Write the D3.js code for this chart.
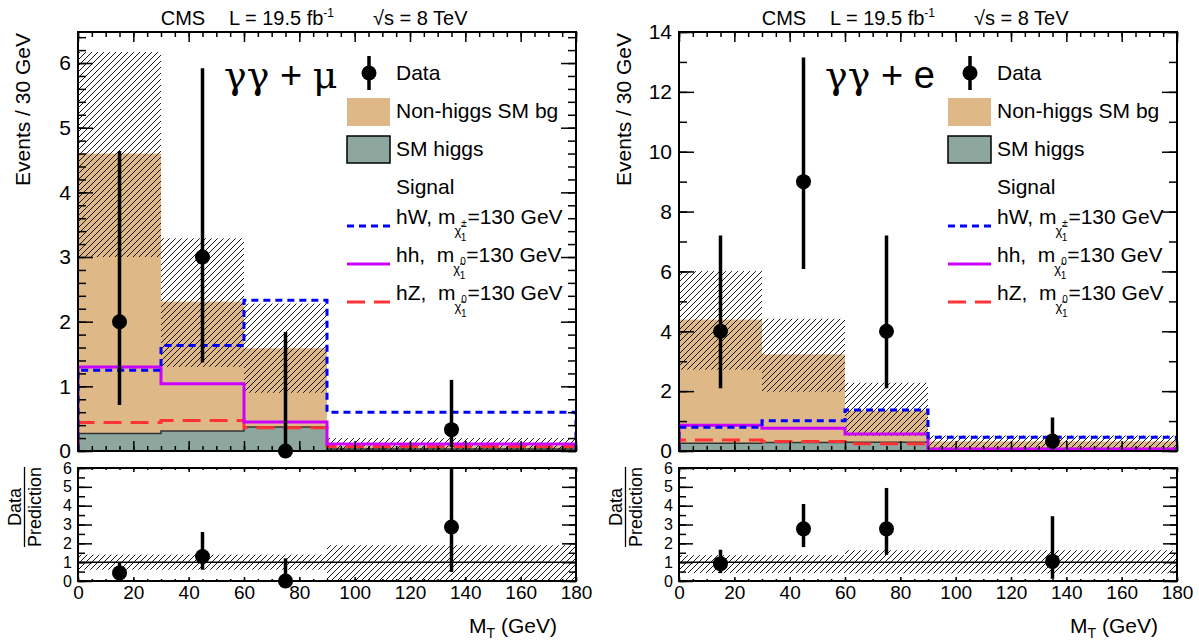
<!DOCTYPE html>
<meta charset="utf-8">
<style>
body { margin: 0; background: #fff; }
svg { font-family: "Liberation Sans", Arial, Helvetica, sans-serif; }
.tick text { font-family: "Liberation Sans", Arial, sans-serif; fill: #000; }
.domain { display: none; }
</style>
<body>
<script src="https://cdn.jsdelivr.net/npm/d3@7/dist/d3.min.js"></script>
<script>

// binning
var binEdges = [0, 30, 60, 90, 180];
var binCenters = [15, 45, 75, 135];

// gamma gamma + mu
var muHiggs = [0.27, 0.31, 0.37, 0.03];
var muBgTotal = [4.6, 2.31, 1.59, 0.08];
var muBandLo = [3.0, 1.3, 0.9, 0.0];
var muBandHi = [6.17, 3.29, 2.28, 0.2];
var muHW = [1.25, 1.63, 2.33, 0.6];
var muHH = [1.3, 1.04, 0.45, 0.11];
var muHZ = [0.44, 0.47, 0.36, 0.07];
var muData = [2, 3, 0, 0.33];
var muDataLo = [0.71, 1.37, 0, 0.06];
var muDataHi = [4.64, 5.92, 1.84, 1.1];
var muRatio = [0.43, 1.3, 0, 2.87];
var muRatioLo = [0.15, 0.6, 0, 0.48];
var muRatioHi = [1.0, 2.6, 1.2, 6.0];
var muRatioBandLo = [0.6, 0.6, 0.6, 0];
var muRatioBandHi = [1.4, 1.4, 1.4, 1.9];

// gamma gamma + e
var eHiggs = [0.26, 0.28, 0.29, 0.03];
var eBgTotal = [4.39, 3.23, 1.35, 0.32];
var eBandLo = [2.72, 1.98, 0.5, 0.05];
var eBandHi = [6.01, 4.42, 2.28, 0.52];
var eHW = [0.79, 1.01, 1.37, 0.46];
var eHH = [0.86, 0.76, 0.57, 0.07];
var eHZ = [0.37, 0.32, 0.24, 0.06];
var eData = [4, 9, 4, 0.33];
var eDataLo = [2.1, 6.08, 2.1, 0.06];
var eDataHi = [7.2, 13.15, 7.2, 1.12];
var eRatio = [0.92, 2.77, 2.77, 1.04];
var eRatioLo = [0.42, 1.8, 1.39, 0.12];
var eRatioHi = [1.66, 4.09, 4.94, 3.44];
var eRatioBandLo = [0.42, 0.42, 0.4, 0.4];
var eRatioBandHi = [1.37, 1.37, 1.63, 1.63];

var xTicks = [0, 20, 40, 60, 80, 100, 120, 140, 160, 180];
var ratioTicks = [0, 1, 2, 3, 4, 5, 6];

var colBg = "#deb887", colHiggs = "#8da79f";

var svg = d3.select("body").append("svg")
  .attr("width", 1199).attr("height", 643);

var defs = svg.append("defs");
defs.append("pattern").attr("id", "hatch")
  .attr("patternUnits", "userSpaceOnUse")
  .attr("width", 6).attr("height", 6)
  .append("path")
  .attr("d", "M-1,1 l2,-2 M0,6 l6,-6 M5,7 l2,-2")
  .attr("stroke", "#000").attr("stroke-width", 0.9);

var frameL = 78, frameR = 576, mainTop = 32, mainBot = 451, ratTop = 468, ratBot = 581;

function drawPad(ox, c) {
  var g = svg.append("g").attr("transform", "translate(" + ox + ",0)");
  var clipId = "clip" + ox, clipR = "clipr" + ox;
  defs.append("clipPath").attr("id", clipId).append("rect")
    .attr("x", ox + frameL).attr("y", mainTop).attr("width", frameR - frameL).attr("height", mainBot - mainTop);
  defs.append("clipPath").attr("id", clipR).append("rect")
    .attr("x", ox + frameL).attr("y", ratTop).attr("width", frameR - frameL).attr("height", ratBot - ratTop);

  var x = d3.scaleLinear().domain([0, 180]).range([frameL, frameR]);
  var y = d3.scaleLinear().domain([0, c.yMax]).range([mainBot, mainTop]);
  var yr = d3.scaleLinear().domain([0, 6]).range([ratBot, ratTop]);
  var bins = d3.range(4);

  var main = g.append("g").attr("clip-path", "url(#" + clipId + ")")
    .attr("transform", "translate(" + (-ox) + ",0)")
    .append("g").attr("transform", "translate(" + ox + ",0)");

  function bars(vLo, vHi, fill) {
    main.append("g").selectAll("rect").data(bins).enter().append("rect")
      .attr("x", function (i) { return x(binEdges[i]); })
      .attr("width", function (i) { return x(binEdges[i + 1]) - x(binEdges[i]); })
      .attr("y", function (i) { return y(vHi[i]); })
      .attr("height", function (i) { return y(vLo ? vLo[i] : 0) - y(vHi[i]); })
      .attr("fill", fill);
  }
  function step(vals, sc) {
    var pts = [[binEdges[0], 0]];
    vals.forEach(function (v, i) { pts.push([binEdges[i], v]); pts.push([binEdges[i + 1], v]); });
    pts.push([binEdges[4], 0]);
    return d3.line().x(function (p) { return x(p[0]); }).y(function (p) { return sc(p[1]); })(pts);
  }

  bars(null, c.bg, colBg);
  bars(null, c.higgs, colHiggs);
  main.append("path").attr("d", step(c.higgs, y)).attr("fill", "none")
    .attr("stroke", "#333").attr("stroke-width", 1.5);
  bars(c.bandLo, c.bandHi, "url(#hatch)");

  main.append("path").attr("d", step(c.hz, y)).attr("fill", "none")
    .attr("stroke", "#ff3333").attr("stroke-width", 3).attr("stroke-dasharray", "18,9");
  main.append("path").attr("d", step(c.hh, y)).attr("fill", "none")
    .attr("stroke", "#cc00ff").attr("stroke-width", 3);
  main.append("path").attr("d", step(c.hw, y)).attr("fill", "none")
    .attr("stroke", "#0000ff").attr("stroke-width", 3).attr("stroke-dasharray", "7,5");

  // data points
  var dp = g.append("g");
  dp.selectAll("line").data(bins).enter().append("line")
    .attr("x1", function (i) { return x(binCenters[i]); })
    .attr("x2", function (i) { return x(binCenters[i]); })
    .attr("y1", function (i) { return y(c.dataLo[i]); })
    .attr("y2", function (i) { return y(c.dataHi[i]); })
    .attr("stroke", "#000").attr("stroke-width", 3.5);
  dp.selectAll("circle").data(bins).enter().append("circle")
    .attr("cx", function (i) { return x(binCenters[i]); })
    .attr("cy", function (i) { return y(c.data[i]); })
    .attr("r", 7.5).attr("fill", "#000");

  // ratio pad
  var rat = g.append("g").attr("clip-path", "url(#" + clipR + ")")
    .attr("transform", "translate(" + (-ox) + ",0)")
    .append("g").attr("transform", "translate(" + ox + ",0)");
  rat.append("g").selectAll("rect").data(bins).enter().append("rect")
    .attr("x", function (i) { return x(binEdges[i]); })
    .attr("width", function (i) { return x(binEdges[i + 1]) - x(binEdges[i]); })
    .attr("y", function (i) { return yr(c.rBandHi[i]); })
    .attr("height", function (i) { return yr(c.rBandLo[i]) - yr(c.rBandHi[i]); })
    .attr("fill", "url(#hatch)");
  rat.append("line").attr("x1", x(0)).attr("x2", x(180)).attr("y1", yr(1)).attr("y2", yr(1))
    .attr("stroke", "#000").attr("stroke-width", 1.5);
  rat.selectAll(".eb").data(bins).enter().append("line")
    .attr("x1", function (i) { return x(binCenters[i]); })
    .attr("x2", function (i) { return x(binCenters[i]); })
    .attr("y1", function (i) { return yr(c.rLo[i]); })
    .attr("y2", function (i) { return yr(c.rHi[i]); })
    .attr("stroke", "#000").attr("stroke-width", 3.5);
  g.append("g").selectAll("circle").data(bins).enter().append("circle")
    .attr("cx", function (i) { return x(binCenters[i]); })
    .attr("cy", function (i) { return yr(c.ratio[i]); })
    .attr("r", 7.5).attr("fill", "#000");

  // axes with ROOT style inner ticks
  function ticks(axis, tx, ty, vals, size) {
    var a = g.append("g").attr("transform", "translate(" + tx + "," + ty + ")")
      .call(axis.tickValues(vals).tickSizeInner(size).tickSizeOuter(0).tickFormat(""));
    a.selectAll(".tick line").attr("stroke", "#000").attr("stroke-width", 1.5);
    return a;
  }
  var x5 = d3.range(0, 181, 5);
  var yMajor = d3.range(0, c.yMax + 0.001, c.yStep);
  var yMinor = d3.range(0, c.yMax + 0.001, c.yMinor);

  // main frame ticks
  ticks(d3.axisTop(x), 0, mainBot, x5, 5);
  ticks(d3.axisTop(x), 0, mainBot, xTicks, 10);
  ticks(d3.axisBottom(x), 0, mainTop, x5, 5);
  ticks(d3.axisBottom(x), 0, mainTop, xTicks, 10);
  ticks(d3.axisRight(y), frameL, 0, yMinor, 8);
  ticks(d3.axisRight(y), frameL, 0, yMajor, 15);
  ticks(d3.axisLeft(y), frameR, 0, yMinor, 8);
  ticks(d3.axisLeft(y), frameR, 0, yMajor, 15);
  var yl = g.append("g").attr("transform", "translate(" + frameL + ",0)")
    .call(d3.axisLeft(y).tickValues(yMajor).tickSize(0).tickPadding(7).tickFormat(d3.format("d")));
  yl.selectAll("text").attr("font-size", 21);

  // ratio frame ticks
  ticks(d3.axisTop(x), 0, ratBot, x5, 2);
  ticks(d3.axisTop(x), 0, ratBot, xTicks, 4);
  ticks(d3.axisBottom(x), 0, ratTop, x5, 2);
  ticks(d3.axisBottom(x), 0, ratTop, xTicks, 4);
  var rMinor = d3.range(0, 6.01, 0.5);
  ticks(d3.axisRight(yr), frameL, 0, rMinor, 7);
  ticks(d3.axisRight(yr), frameL, 0, ratioTicks, 14);
  ticks(d3.axisLeft(yr), frameR, 0, rMinor, 7);
  ticks(d3.axisLeft(yr), frameR, 0, ratioTicks, 14);
  var ryl = g.append("g").attr("transform", "translate(" + frameL + ",0)")
    .call(d3.axisLeft(yr).tickValues(ratioTicks).tickSize(0).tickPadding(6).tickFormat(d3.format("d")));
  ryl.selectAll("text").attr("font-size", 16);
  var rxl = g.append("g").attr("transform", "translate(0," + ratBot + ")")
    .call(d3.axisBottom(x).tickValues(xTicks).tickSize(0).tickPadding(5).tickFormat(d3.format("d")));
  rxl.selectAll("text").attr("font-size", 19);

  // frames
  g.append("rect").attr("x", frameL).attr("y", mainTop).attr("width", frameR - frameL)
    .attr("height", mainBot - mainTop).attr("fill", "none").attr("stroke", "#000").attr("stroke-width", 2);
  g.append("rect").attr("x", frameL).attr("y", ratTop).attr("width", frameR - frameL)
    .attr("height", ratBot - ratTop).attr("fill", "none").attr("stroke", "#000").attr("stroke-width", 2);

  // axis titles
  g.append("text").attr("transform", "translate(30,33) rotate(-90)")
    .attr("text-anchor", "end").attr("font-size", 21).text("Events / 30 GeV");
  var fr = g.append("g").attr("transform", "translate(0,507) rotate(-90)");
  fr.append("text").attr("x", 0).attr("y", 21).attr("text-anchor", "middle").attr("font-size", 18).text("Data");
  fr.append("line").attr("x1", -40).attr("x2", 40).attr("y1", 24.5).attr("y2", 24.5)
    .attr("stroke", "#000").attr("stroke-width", 1.3);
  fr.append("text").attr("x", 0).attr("y", 41).attr("text-anchor", "middle").attr("font-size", 18).text("Prediction");
  var mt = g.append("text").attr("x", 557).attr("y", 633).attr("text-anchor", "end").attr("font-size", 21);
  mt.append("tspan").text("M");
  mt.append("tspan").attr("font-size", 14).attr("dy", 5).text("T");
  mt.append("tspan").attr("dy", -5).text(" (GeV)");

  // header
  g.append("text").attr("x", 183).attr("y", 25).attr("text-anchor", "middle").attr("font-size", 20).text("CMS");
  var lum = g.append("text").attr("x", 229).attr("y", 25).attr("font-size", 20);
  lum.append("tspan").text("L = 19.5 fb");
  lum.append("tspan").attr("font-size", 12).attr("dy", -8).text("-1");
  g.append("text").attr("x", 373).attr("y", 25).attr("font-size", 20).text("\u221As = 8 TeV");

  // channel label
  var ch = g.append("text").attr("x", 224).attr("y", 88).attr("font-size", 38);
  ch.append("tspan").attr("font-family", "DejaVu Serif").text("\u03B3\u03B3");
  ch.append("tspan").text(" + ");
  ch.append("tspan").attr("font-family", c.chSerif ? "DejaVu Serif" : null).text(c.ch);

  // legend
  var lx = 347, tx = 396;
  var lg = g.append("g").attr("font-size", 21);
  lg.append("line").attr("x1", 369).attr("x2", 369).attr("y1", 56).attr("y2", 90)
    .attr("stroke", "#000").attr("stroke-width", 3.5);
  lg.append("circle").attr("cx", 369).attr("cy", 73).attr("r", 7.5).attr("fill", "#000");
  lg.append("text").attr("x", tx).attr("y", 80).text("Data");
  lg.append("rect").attr("x", lx).attr("y", 98).attr("width", 43).attr("height", 28).attr("fill", colBg);
  lg.append("text").attr("x", tx).attr("y", 118).text("Non-higgs SM bg");
  lg.append("rect").attr("x", lx).attr("y", 136).attr("width", 43).attr("height", 27)
    .attr("fill", colHiggs).attr("stroke", "#000").attr("stroke-width", 1.5);
  lg.append("text").attr("x", tx).attr("y", 156).text("SM higgs");
  lg.append("text").attr("x", tx).attr("y", 194).text("Signal");
  var sig = [
    { p: "hW, m", s: "\u00B1", col: "#0000ff", dash: "7,5", y: 226 },
    { p: "hh,  m", s: "0", col: "#cc00ff", dash: null, y: 264 },
    { p: "hZ,  m", s: "0", col: "#ff3333", dash: "18,9", y: 302 }
  ];
  sig.forEach(function (d) {
    lg.append("line").attr("x1", lx).attr("x2", lx + 43).attr("y1", d.y).attr("y2", d.y)
      .attr("stroke", d.col).attr("stroke-width", 3).attr("stroke-dasharray", d.dash);
    var t = lg.append("text").attr("x", tx).attr("y", d.y - 2).style("white-space", "pre");
    t.append("tspan").text(d.p);
    t.append("tspan").attr("font-size", 13).attr("dy", 11).attr("dx", -1).text("\u03C7\u0303");
    t.append("tspan").attr("font-size", 10).attr("dy", -8).text(d.s);
    t.append("tspan").attr("font-size", 10).attr("dy", 14).attr("dx", -6).text("1");
    t.append("tspan").attr("dy", -17).attr("dx", 1).text("=130 GeV");
  });
}

drawPad(0, {
  yMax: 6.48, yStep: 1, yMinor: 0.2, ch: "\u03BC", chSerif: true,
  higgs: muHiggs, bg: muBgTotal, bandLo: muBandLo, bandHi: muBandHi,
  hw: muHW, hh: muHH, hz: muHZ,
  data: muData, dataLo: muDataLo, dataHi: muDataHi,
  ratio: muRatio, rLo: muRatioLo, rHi: muRatioHi, rBandLo: muRatioBandLo, rBandHi: muRatioBandHi
});
drawPad(601, {
  yMax: 14, yStep: 2, yMinor: 1, ch: "e", chSerif: false,
  higgs: eHiggs, bg: eBgTotal, bandLo: eBandLo, bandHi: eBandHi,
  hw: eHW, hh: eHH, hz: eHZ,
  data: eData, dataLo: eDataLo, dataHi: eDataHi,
  ratio: eRatio, rLo: eRatioLo, rHi: eRatioHi, rBandLo: eRatioBandLo, rBandHi: eRatioBandHi
});

</script>
</body>
